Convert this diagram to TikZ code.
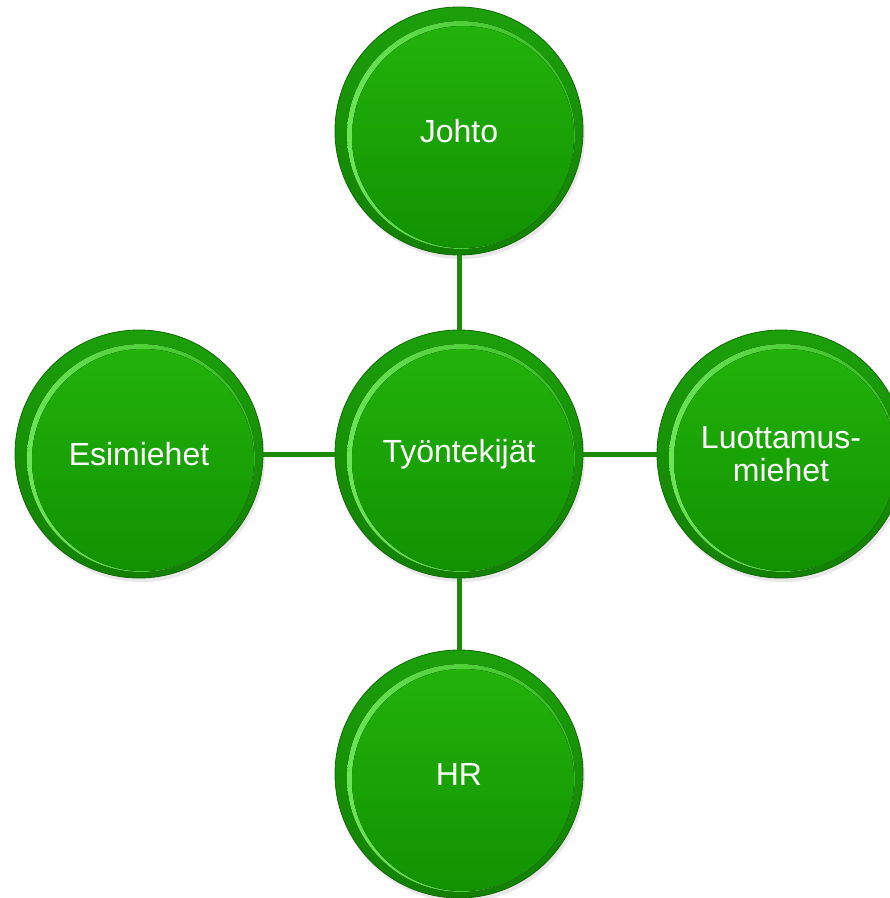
\documentclass[tikz,border=0pt]{standalone}
\usepackage{fontspec}
\setmainfont{Liberation Sans}
\usetikzlibrary{shadows}
\definecolor{rimtop}{RGB}{28,160,10}
\definecolor{rimbot}{RGB}{18,128,2}
\definecolor{rimedge}{RGB}{16,105,4}
\definecolor{hlleft}{RGB}{110,232,90}
\definecolor{hlright}{RGB}{50,185,28}
\definecolor{intop}{RGB}{34,178,10}
\definecolor{inbot}{RGB}{18,146,2}
\definecolor{linkcol}{RGB}{30,138,10}
\tikzset{
  bubble/.style={circle, minimum size=248pt, inner sep=0pt, text=white,
    font=\fontsize{32}{33}\selectfont, align=center,
    top color=rimtop, bottom color=rimbot, draw=rimedge, line width=0.8pt,
    drop shadow={opacity=0.18, shadow xshift=2pt, shadow yshift=-4pt},
    path picture={
      \fill[left color=hlleft, right color=hlright]
        ([xshift=2pt,yshift=-4pt]path picture bounding box.center) circle (114pt);
      \fill[top color=intop, bottom color=inbot]
        ([xshift=4pt,yshift=-6pt]path picture bounding box.center) circle (111pt);
    }},
  link/.style={draw=linkcol, line width=5pt}
}
\begin{document}
\begin{tikzpicture}[x=1pt,y=-1pt]
\useasboundingbox (0,0) rectangle (890,898);
\node[bubble] (johto) at (459,131) {Johto};
\node[bubble] (tyo) at (459,454) {Työntekijät};
\node[bubble] (esi) at (139,454) {Esimiehet};
\node[bubble] (luo) at (781,454) {Luottamus-\\miehet};
\node[bubble] (hr) at (459,774) {HR};
\draw[link] (johto) -- (tyo);
\draw[link] (esi) -- (tyo);
\draw[link] (tyo) -- (luo);
\draw[link] (tyo) -- (hr);
\end{tikzpicture}
\end{document}
